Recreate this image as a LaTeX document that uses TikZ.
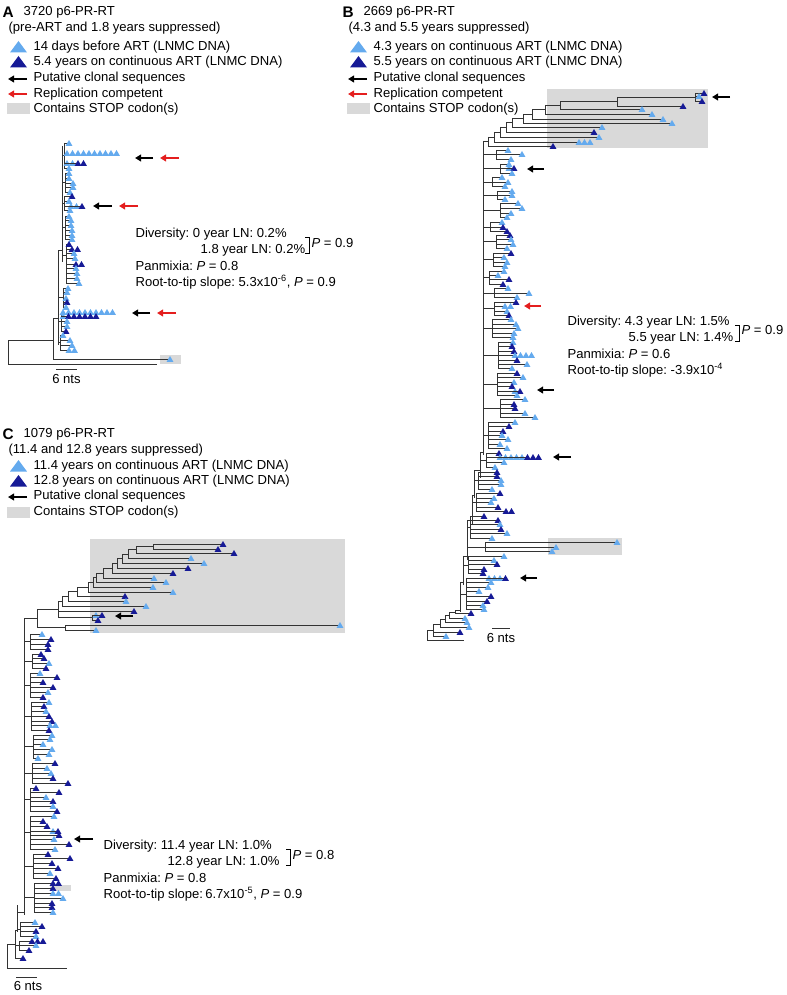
\documentclass[tikz,border=0pt]{standalone}
\usepackage{fontspec}
\setmainfont{Liberation Sans}
\usetikzlibrary{arrows.meta}
\definecolor{tipL}{RGB}{100,170,238}
\definecolor{tipD}{RGB}{22,26,150}
\definecolor{stopbg}{gray}{0.85}
\definecolor{repred}{RGB}{228,30,30}
% small tip triangle and legend triangle
\newcommand\seqtip[3]{\fill[fill=tip#3] (#1,#2) ++(-3.4,2.8) -- ++(6.8,0) -- ++(-3.4,-5.8) -- cycle;}
\newcommand\legtip[3]{\fill[fill=tip#3] (#1,#2) ++(-8.5,5.5) -- ++(17,0) -- ++(-8.5,-11.5) -- cycle;}
% tree parts: inner nodes (x/top/bottom/parent x/join y) and tips (y/start/x/colour/count)
\newcommand\treenodes[1]{\foreach \gx/\ya/\yb/\px/\yc in {#1}
  \draw[branch] (\gx,\ya) -- (\gx,\yb) (\px,\yc) -- (\gx,\yc);}
\newcommand\treetips[1]{\foreach \ty/\xs/\tx/\col/\n in {#1}{
  \draw[branch] (\xs,\ty) -- (\tx,\ty);
  \ifnum\n>0 \foreach \k [evaluate=\k as \xk using \tx+(\k-1)*5.5] in {1,...,\n} {\seqtip{\xk}{\ty}{\col}}\fi}}
\frenchspacing

\begin{document}
\begin{tikzpicture}[x=0.75pt,y=-0.75pt,
  every node/.style={font=\fontsize{9.8}{12}\selectfont},
  lbl/.style={anchor=west,inner sep=1pt},
  tag/.style={lbl,font=\bfseries\fontsize{11.5}{12}\selectfont},
  branch/.style={line width=0.55pt,black!80},
  clone/.style={-{Triangle[length=4.5pt,width=5pt]},line width=1.4pt},
  repl/.style={clone,repred}]
\useasboundingbox (0,0) rectangle (787,995);

% ---------------- panel A
\node[tag] (tagA) at (1,12) {A};
\node[lbl] (nameA) at (22,12) {3720 p6-PR-RT};
\node[lbl] (subA) at (7,28) {(pre-ART and 1.8 years suppressed)};
\legtip{18.5}{47}{L} \node[lbl] (legA1) at (32,47) {14 days before ART (LNMC DNA)};
\legtip{18.5}{62}{D} \node[lbl] (legA2) at (32,62) {5.4 years on continuous ART (LNMC DNA)};
\draw[clone] (27,79) -- (8,79); \node[lbl] (legA3) at (32,78) {Putative clonal sequences};
\draw[repl] (27,94) -- (8,94); \node[lbl] (legA4) at (32,94) {Replication competent};
\fill[stopbg] (7,103) rectangle (30,114); \node[lbl] (legA5) at (32,109) {Contains STOP codon(s)};

\fill[stopbg] (160,355) rectangle (181,364);
\treenodes{8/340/364/8/352, 53/318/359/8/340, 58/250/345/53/318, 62/146/262/58/250,
  64/143/168/62/155, 65/173/192/62/182, 64/196/210/62/203, 65/216/239/62/227,
  66/244/283/62/255, 63/288/307/58/297, 61/312/331/58/321, 60/335/350/58/342}
\treetips{143/64/69/L/1, 153/64/67/L/10, 163/64/67/L/2, 163/64/78/D/2, 168/64/69/L/1,
  173/65/69/L/1, 178/65/69/L/1, 183/65/73/L/1, 187/65/73/L/1, 192/65/70/L/1,
  196/64/72/D/1, 201/64/69/L/1, 206/64/71/L/2, 206/64/82/D/1, 210/64/70/L/1,
  216/65/69/L/1, 220/65/71/L/1, 225/65/71/L/1, 230/65/72/L/1, 235/65/72/L/1, 239/65/72/L/1,
  244/66/69/D/1, 249/66/72/D/2, 253/66/74/L/1, 258/66/75/L/1, 264/66/76/D/2, 268/66/76/L/1,
  273/66/77/L/1, 278/66/77/L/1, 283/66/79/L/1,
  288/63/68/L/1, 292/63/67/L/1, 298/63/66/L/1, 302/63/67/D/1, 307/63/66/L/1,
  312/61/63/L/10, 316/61/63/L/1, 316/61/68.5/D/6, 321/61/67/L/1, 326/61/67/L/1, 331/61/66/D/1,
  335/60/63/L/1, 340/60/70/L/1, 345/60/72/L/1, 350/60/69/L/2,
  359/53/170/L/1, 364/8/157/L/0}
\draw[clone] (153,158) -- (135,158); \draw[repl] (179,158) -- (160,158);
\draw[clone] (112,206) -- (93,206);  \draw[repl] (138,206) -- (119,206);
\draw[clone] (150,313) -- (132,313); \draw[repl] (176,313) -- (157,313);
\draw[branch] (56,369) -- (77,369);
\node (barA) at (66.5,379) {6 nts};

\node[lbl] (divA1) at (134,234) {Diversity: 0 year LN: 0.2\%};
\node[lbl] (divA2) at (199,250) {1.8 year LN: 0.2\%};
\draw[line width=0.6pt] (305,237) -- (309,237) -- (309,253) -- (305,253);
\node[lbl] (pA) at (310,243) {\textit{P} = 0.9};
\node[lbl] (panA) at (134,266) {Panmixia: \textit{P} = 0.8};
\node[lbl] (rttA) at (134,282) {Root-to-tip slope: 5.3x10\textsuperscript{-6}, \textit{P} = 0.9};

% ---------------- panel B
\node[tag] (tagB) at (341,12) {B};
\node[lbl] (nameB) at (362,12) {2669 p6-PR-RT};
\node[lbl] (subB) at (347,28) {(4.3 and 5.5 years suppressed)};
\legtip{358.5}{47}{L} \node[lbl] (legB1) at (372,47) {4.3 years on continuous ART (LNMC DNA)};
\legtip{358.5}{62}{D} \node[lbl] (legB2) at (372,62) {5.5 years on continuous ART (LNMC DNA)};
\draw[clone] (367,79) -- (348,79); \node[lbl] (legB3) at (372,78) {Putative clonal sequences};
\draw[repl] (367,94) -- (348,94); \node[lbl] (legB4) at (372,94) {Replication competent};
\fill[stopbg] (347,103) rectangle (370,114); \node[lbl] (legB5) at (372,109) {Contains STOP codon(s)};

\fill[stopbg] (547,89) rectangle (708,148);
\fill[stopbg] (548,538) rectangle (622,555);
\treenodes{695/93/101/617/97, 617/97/106/560/101.5, 560/101.5/109/545/105, 545/105/114/532/109.5,
  532/109.5/119/523/114, 523/114/123/512/118.5, 512/118.5/127/506/122.5, 506/122.5/132/500/127,
  500/127/137/494/132, 494/132/142/488/137, 488/137/146/483/141.5,
  483/141/455/480/452, 480/452/478/474/470, 474/470/498/472/495, 472/495/525/467/520,
  467/520/560/463/556, 463/556/585/460/582, 460/582/612/455/610, 455/610/613/449/612,
  449/612/618/445/615, 445/615/622/440/619, 440/619/627/433/624, 433/624/636/427/630,
  427/630/640/427/635,
  496/150/159/483/154, 500/164/173/483/168, 492/177/186/483/182, 497/191/199/483/195,
  500/203/217/483/210, 490/222/231/483/227, 496/235/248/483/241, 493/253/266/483/259,
  489/271/284/483/277, 494/288/297/483/293, 494/302/315/483/308, 492/319/337/483/328,
  498/342/368/483/355, 497/373/395/483/384, 500/399/417/483/408, 488/422/448/483/435,
  486/453/467/480/460, 478/472/489/474/480, 476/493/511/472/502, 470/516/538/467/527,
  485/542/551/467/547, 468/556/573/463/565, 466/578/609/460/594}
\treetips{93/695/704/D/1, 96/695/699/L/1, 101/695/702/D/1, 106/617/683/D/1, 109/560/642/L/1,
  114/545/652/L/1, 119/532/663/L/1, 123/523/672/L/1, 127/512/602/L/1, 132/506/594/D/1,
  137/500/599/L/1, 142/494/579/L/3, 146/488/553/D/1,
  150/496/508/L/1, 154/496/522/L/1, 159/496/511/L/1,
  164/500/509/L/1, 168/500/509/L/1, 168/500/514/D/1, 173/500/512/L/1,
  177/492/502/L/1, 182/492/508/L/1, 186/492/505/L/1,
  191/497/512/L/1, 195/497/512/L/1, 199/497/505/L/1,
  203/500/518/L/1, 208/500/522/L/1, 213/500/511/L/1, 217/500/507/L/1,
  222/490/502/L/1, 227/490/503/D/1, 231/490/507/D/1,
  235/496/510/D/1, 239/496/511/L/1, 244/496/513/L/1, 248/496/507/L/1,
  253/493/511/D/1, 257/493/504/L/1, 262/493/507/L/1, 266/493/505/L/1,
  271/489/504/L/1, 275/489/498/L/1, 279/489/509/D/1, 284/489/503/D/1,
  288/494/508/L/1, 293/494/529/L/1, 297/494/517/L/1,
  302/494/516/D/1, 306/494/505/L/2, 311/494/507/L/1, 315/494/509/D/1,
  319/492/511/L/1, 324/492/516/L/1, 328/492/518/L/1, 333/492/514/L/1, 337/492/513/L/1,
  342/498/513/L/1, 346/498/512/D/1, 351/498/514/D/1, 355/498/515/L/4, 360/498/517/D/1,
  364/498/527/L/1, 368/498/512/L/1,
  373/497/517/D/1, 377/497/523/L/1, 382/497/514/L/1, 386/497/512/D/1, 391/497/515/L/1,
  391/497/520/D/1, 395/497/517/L/1,
  399/500/525/L/1, 404/500/514/D/1, 408/500/515/D/1, 413/500/525/L/1, 417/500/535/L/1,
  422/488/515/L/1, 426/488/509/D/1, 431/488/503/D/1, 435/488/502/L/1, 439/488/508/L/1,
  444/488/500/L/1, 448/488/507/L/1,
  453/486/499/D/1, 457/486/500/L/5, 457/486/527.5/D/3, 462/486/504/L/1, 467/486/495/L/1,
  472/478/497/D/1, 476/478/497/D/1, 480/478/501/L/1, 484/478/501/L/1, 489/478/492/L/1,
  493/476/500/D/1, 498/476/494/L/1, 502/476/491/L/1, 507/476/498/D/1, 511/476/506/D/2,
  516/470/484/D/1, 520/470/498/D/1, 524/470/500/L/1, 529/470/501/D/1, 533/470/507/L/1,
  538/470/492/L/1,
  542/485/617/L/1, 547/485/556/L/1, 551/485/552/L/1,
  556/468/504/L/1, 560/468/494/L/1, 564/468/497/D/1, 569/468/484/D/1, 573/468/483/D/1,
  578/466/489/L/3, 578/466/505.5/D/1, 582/466/491/L/1, 587/466/488/L/1, 591/466/479/L/1,
  596/466/491/D/1, 601/466/487/D/1, 605/466/483/L/1, 609/466/484/L/1,
  613/455/471/D/1, 618/449/465/L/1, 622/445/467/L/1, 627/440/469/L/1, 632/433/460/D/1,
  636/433/446/L/1, 640/427/464/L/0}
\draw[clone] (730,97) -- (712,97);
\draw[clone] (544,169) -- (527,169);
\draw[repl] (541,306) -- (524,306);
\draw[clone] (554,390) -- (537,390);
\draw[clone] (571,457) -- (553,457);
\draw[clone] (537,578) -- (520,578);
\draw[branch] (492,628) -- (510,628);
\node (barB) at (501,638) {6 nts};

\node[lbl] (divB1) at (566,322) {Diversity: 4.3 year LN: 1.5\%};
\node[lbl] (divB2) at (627,338) {5.5 year LN: 1.4\%};
\draw[line width=0.6pt] (735,325) -- (739,325) -- (739,341) -- (735,341);
\node[lbl] (pB) at (740,330) {\textit{P} = 0.9};
\node[lbl] (panB) at (566,354) {Panmixia: \textit{P} = 0.6};
\node[lbl] (rttB) at (566,370) {Root-to-tip slope: -3.9x10\textsuperscript{-4}};

% ---------------- panel C
\node[tag] (tagC) at (1,434) {C};
\node[lbl] (nameC) at (22,434) {1079 p6-PR-RT};
\node[lbl] (subC) at (7,450) {(11.4 and 12.8 years suppressed)};
\legtip{18.5}{466}{L} \node[lbl] (legC1) at (32,466) {11.4 years on continuous ART (LNMC DNA)};
\legtip{18.5}{481}{D} \node[lbl] (legC2) at (32,481) {12.8 years on continuous ART (LNMC DNA)};
\draw[clone] (27,497) -- (8,497); \node[lbl] (legC3) at (32,496) {Putative clonal sequences};
\fill[stopbg] (7,507) rectangle (30,518); \node[lbl] (legC4) at (32,512) {Contains STOP codon(s)};

\fill[stopbg] (90,539) rectangle (345,633);
\fill[stopbg] (50,885) rectangle (71,891);
\treenodes{153/544/549/136/546.5, 136/546.5/553/128/549.5, 128/549.5/558/122/554, 122/554/563/117/558.5,
  117/558.5/568/112/563, 112/563/573/103/568, 103/568/578/96/573, 96/573/582/93/577.5,
  93/577.5/587/88/582, 88/582/592/77/587, 77/587/596/68/591.5, 68/591.5/601/62/596,
  62/596/606/58/601, 58/601/617.5/37/609, 92/615/620/58/617.5, 65/625/630/37/627.5,
  37/609/627.5/24/618, 24/618/915/17/912, 17/905/932/15/930, 15/930/958/7/944, 7/944/968/7/956,
  30/634/649/24/641, 32/654/668/24/661, 30/673/697/24/685, 31/702/730/24/716,
  33/735/758/24/746, 32/763/783/24/773, 30/788/811/24/799, 30/816/849/24/832,
  33/854/878/24/866, 34/883/912/24/897, 20/922/936/17/929, 19/941/950/15/945}
\treetips{544/153/223/D/1, 549/153/218/D/1, 553/136/234/D/1, 558/128/191/L/1, 563/122/204/L/1,
  568/117/188/D/1, 573/112/173/D/1, 578/103/154/L/1, 582/96/166/L/1, 587/93/153/L/1,
  592/88/173/L/1, 596/77/125/D/1, 601/68/126/L/1, 606/62/146/L/1, 611/58/134/D/1,
  615/92/96/L/1, 615/92/102/D/1, 620/92/98/D/1, 625/65/340/L/1, 630/65/96/L/1,
  634/30/42/L/1, 639/30/51/D/1, 644/30/48/D/1, 649/30/48/D/1,
  654/32/41/D/1, 658/32/44/D/1, 663/32/49/L/1, 668/32/46/D/1,
  673/30/40/L/1, 677/30/57/D/1, 682/30/43/D/1, 687/30/53/D/1, 692/30/48/L/1, 697/30/43/D/1,
  702/31/49/L/1, 706/31/44/D/1, 711/31/46/L/1, 716/31/49/D/1, 721/31/52/D/1, 725/31/50/L/2,
  730/31/49/D/1,
  735/33/52/L/1, 739/33/50/L/1, 744/33/43/L/1, 749/33/52/L/1, 754/33/49/L/1, 758/33/38/L/1,
  763/32/55/D/1, 768/32/47/L/1, 773/32/51/L/1, 778/32/53/D/1, 783/32/68/D/1,
  788/30/36/D/1, 792/30/59/D/1, 797/30/46/L/1, 801/30/53/D/1, 806/30/53/L/1, 811/30/57/D/1,
  816/30/54/L/1, 821/30/43/D/1, 826/30/47/D/1, 831/30/53/L/1, 831/30/58/D/1, 835/30/59/D/1,
  839/30/54/L/1, 844/30/69/D/1, 849/30/55/L/1,
  854/33/48/D/1, 858/33/70/D/1, 863/33/52/D/1, 868/33/58/D/1, 873/33/50/L/1, 878/33/56/D/1,
  883/34/53/D/2, 888/34/53/D/1, 893/34/53/L/2, 898/34/63/L/1, 903/34/52/D/1, 907/34/52/D/1,
  912/34/53/L/1,
  922/20/35/L/1, 926/20/42/D/1, 931/20/36/D/1, 936/20/36/L/1,
  941/19/32/D/3, 945/19/36/L/1, 950/19/29/D/1, 958/15/23/D/1, 968/7/67/L/0}
\draw[clone] (133,616) -- (115,616);
\draw[clone] (93,839) -- (74,839);
\draw[branch] (16,977) -- (37,977);
\node (barC) at (28,986) {6 nts};

\node[lbl] (divC1) at (102,846) {Diversity: 11.4 year LN: 1.0\%};
\node[lbl] (divC2) at (166,862) {12.8 year LN: 1.0\%};
\draw[line width=0.6pt] (286,849) -- (290,849) -- (290,865) -- (286,865);
\node[lbl] (pC) at (291,855) {\textit{P} = 0.8};
\node[lbl] (panC) at (102,878) {Panmixia: \textit{P} = 0.8};
\node[lbl] (rttC) at (102,894) {Root-to-tip slope:\,6.7x10\textsuperscript{-5}, \textit{P} = 0.9};
\end{tikzpicture}
\end{document}
